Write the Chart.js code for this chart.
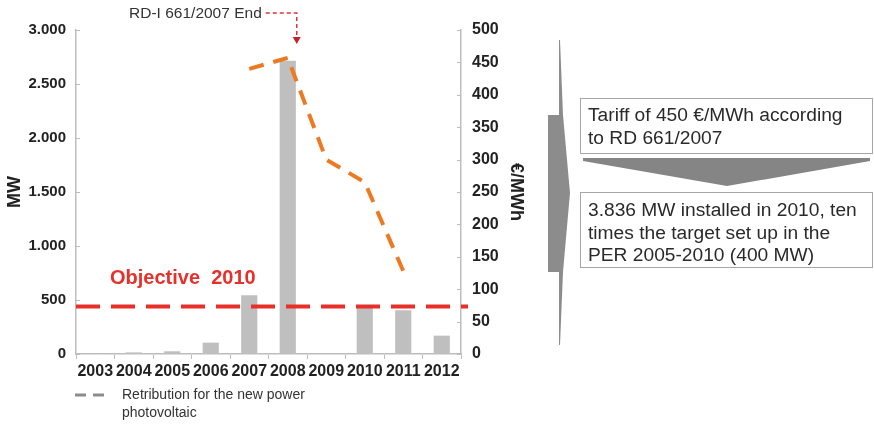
<!DOCTYPE html>
<html lang="en">
<head>
    <meta charset="UTF-8">
    <title>Photovoltaic MW and tariff</title>
    <style>
        body {
            margin: 0;
            background: white;
            font-family: "Liberation Sans", Arial, sans-serif;
        }
        #wrap {
            position: relative;
            width: 874px;
            height: 424px;
        }
        #chart {
            position: absolute;
            left: 0;
            top: 0;
        }
        svg {
            position: absolute;
            left: 0;
            top: 0;
        }
        .box {
            position: absolute;
            left: 580px;
            width: 293px;
            box-sizing: border-box;
            border: 1.5px solid #a6a6a6;
            padding-left: 7px;
            font-size: 19.2px;
            color: #2a2a2a;
            line-height: 22.5px;
            white-space: nowrap;
        }
    </style>
    <script src="https://cdn.jsdelivr.net/npm/chart.js"></script>
</head>
<body>
<div id="wrap">
    <canvas id="chart" width="874" height="424"></canvas>
    <svg width="874" height="424">
        <polygon points="559,40 560,40 563,115 563,115 570,193 563,272 560,345 559,345 559,272 548,272 548,115 559,115" fill="#8c8c8c"/>
        <polygon points="583,158 870,158 870,161 727,186 583,161" fill="#858585"/>
    </svg>
    <div class="box" style="top:98px;height:56px;padding-top:5px;">Tariff of 450 €/MWh according<br>to RD 661/2007</div>
    <div class="box" style="top:192px;height:76px;padding-top:6px;">3.836 MW installed in 2010, ten<br>times the target set up in the<br>PER 2005-2010 (400 MW)</div>
</div>

<script>
    // data
    const years = ['2003', '2004', '2005', '2006', '2007', '2008', '2009', '2010', '2011', '2012'];
    const installedMW = [5, 15, 25, 105, 545, 2715, 0, 428, 405, 170];
    const tariff = [null, null, null, null, 440, 457, 300, 265, 128, null];
    const objective2010 = 440;
    const mwTicks = [0, 500, 1000, 1500, 2000, 2500, 3000];
    const tariffTicks = [0, 50, 100, 150, 200, 250, 300, 350, 400, 450, 500];

    const font = '"Liberation Sans", Arial, sans-serif';
    const axisGray = '#bdbdbd';

    function euro(v) {
        return v.toLocaleString('de-DE');
    }

    const extras = {
        id: 'extras',
        afterDatasetsDraw(chart) {
            const ctx = chart.ctx;
            const x = chart.scales.x;
            const y = chart.scales.y;
            const y1 = chart.scales.y1;
            const area = chart.chartArea;
            ctx.save();

            // inward tick marks on both value axes
            ctx.strokeStyle = axisGray;
            ctx.lineWidth = 1;
            mwTicks.forEach(v => {
                const py = Math.round(y.getPixelForValue(v)) + 0.5;
                ctx.beginPath();
                ctx.moveTo(area.left, py);
                ctx.lineTo(area.left + 4, py);
                ctx.stroke();
            });
            tariffTicks.forEach(v => {
                const py = Math.round(y1.getPixelForValue(v)) + 0.5;
                ctx.beginPath();
                ctx.moveTo(area.right, py);
                ctx.lineTo(area.right - 4, py);
                ctx.stroke();
            });

            // objective line
            const oy = y.getPixelForValue(objective2010);
            ctx.strokeStyle = '#e8302a';
            ctx.lineWidth = 4;
            ctx.setLineDash([24, 11]);
            ctx.beginPath();
            ctx.moveTo(area.left, oy);
            ctx.lineTo(area.right + 7, oy);
            ctx.stroke();
            ctx.setLineDash([]);

            ctx.fillStyle = '#e8302a';
            ctx.font = 'bold 20px ' + font;
            ctx.textBaseline = 'middle';
            ctx.textAlign = 'left';
            ctx.fillText('Objective  2010', 110, y.getPixelForValue(700));

            // annotation for the end of RD 661/2007
            const ax = x.getPixelForValue(5) + 9;
            ctx.fillStyle = '#333';
            ctx.font = '15.5px ' + font;
            ctx.textAlign = 'right';
            ctx.fillText('RD-I 661/2007 End', ax - 35, 14);
            ctx.strokeStyle = '#d9353a';
            ctx.lineWidth = 1.5;
            ctx.setLineDash([4, 3]);
            ctx.beginPath();
            ctx.moveTo(ax - 31, 13);
            ctx.lineTo(ax, 13);
            ctx.lineTo(ax, 37);
            ctx.stroke();
            ctx.setLineDash([]);
            ctx.fillStyle = '#c8202a';
            ctx.beginPath();
            ctx.moveTo(ax - 4, 37);
            ctx.lineTo(ax + 4, 37);
            ctx.lineTo(ax, 44);
            ctx.closePath();
            ctx.fill();

            // legend
            ctx.strokeStyle = '#8c8c8c';
            ctx.lineWidth = 3;
            ctx.setLineDash([11, 7]);
            ctx.beginPath();
            ctx.moveTo(75, 395);
            ctx.lineTo(111, 395);
            ctx.stroke();
            ctx.setLineDash([]);
            ctx.fillStyle = '#333';
            ctx.font = '14px ' + font;
            ctx.textAlign = 'left';
            ctx.fillText('Retribution for the new power', 122, 395);
            ctx.fillText('photovoltaic', 122, 413);

            ctx.restore();
        }
    };

    new Chart(document.getElementById('chart'), {
        data: {
            labels: years,
            datasets: [
                {
                    type: 'line',
                    label: 'Retribution for the new power photovoltaic',
                    data: tariff,
                    yAxisID: 'y1',
                    borderColor: '#ec7a22',
                    borderWidth: 4,
                    borderDash: [15, 10],
                    pointRadius: 0,
                    spanGaps: false,
                    order: 0
                },
                {
                    type: 'bar',
                    label: 'MW',
                    data: installedMW,
                    yAxisID: 'y',
                    backgroundColor: '#bfbfbf',
                    barPercentage: 0.42,
                    categoryPercentage: 1,
                    order: 1
                }
            ]
        },
        options: {
            responsive: false,
            animation: false,
            devicePixelRatio: 1,
            layout: { padding: { left: 0, right: 343, top: 30, bottom: 0 } },
            plugins: {
                legend: { display: false },
                tooltip: { enabled: false }
            },
            scales: {
                x: {
                    afterFit: s => { s.height = 70; },
                    border: { color: axisGray, width: 1.5 },
                    grid: { offset: true, drawOnChartArea: false, tickLength: 5, color: axisGray },
                    ticks: {
                        color: '#222',
                        padding: 3,
                        maxRotation: 0,
                        autoSkip: false,
                        font: { family: font, size: 16, weight: 'bold' }
                    }
                },
                y: {
                    position: 'left',
                    min: 0,
                    max: 3000,
                    afterFit: s => { s.width = 76; },
                    afterBuildTicks: s => { s.ticks = mwTicks.map(v => ({ value: v })); },
                    border: { color: axisGray, width: 1.5 },
                    grid: { display: false, drawTicks: false },
                    ticks: {
                        color: '#222',
                        padding: 10,
                        font: { family: font, size: 15, weight: 'bold' },
                        callback: v => euro(v)
                    },
                    title: {
                        display: true,
                        text: 'MW',
                        color: '#222',
                        padding: 4,
                        font: { family: font, size: 18, weight: 'bold' }
                    }
                },
                y1: {
                    position: 'right',
                    min: 0,
                    max: 500,
                    afterFit: s => { s.width = 70; },
                    afterBuildTicks: s => { s.ticks = tariffTicks.map(v => ({ value: v })); },
                    border: { color: axisGray, width: 1.5 },
                    grid: { display: false, drawTicks: false },
                    ticks: {
                        color: '#222',
                        padding: 11,
                        font: { family: font, size: 16, weight: 'bold' }
                    },
                    title: {
                        display: true,
                        text: '€/MWh',
                        color: '#222',
                        padding: 4,
                        font: { family: font, size: 18, weight: 'bold' }
                    }
                }
            }
        },
        plugins: [extras]
    });
</script>
</body>
</html>
